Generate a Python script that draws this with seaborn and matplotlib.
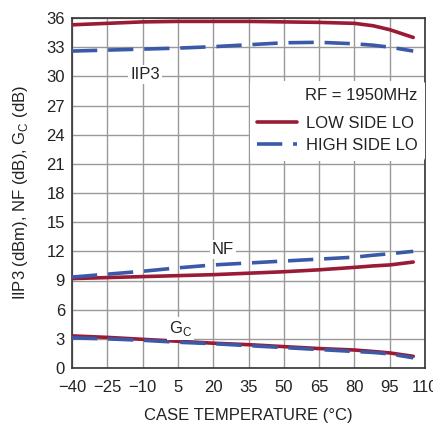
import matplotlib
matplotlib.use("Agg")
import matplotlib.pyplot as plt
import seaborn as sns
import pandas as pd
from matplotlib import font_manager

temps = [-40, -25, -10, 5, 20, 35, 50, 65, 80, 88, 95, 105]
iip3_low = [35.3, 35.45, 35.6, 35.65, 35.65, 35.65, 35.6, 35.55, 35.45, 35.2, 34.8, 34.0]
iip3_high = [32.6, 32.7, 32.8, 32.9, 33.05, 33.25, 33.45, 33.5, 33.35, 33.2, 33.0, 32.6]
nf_low = [9.2, 9.3, 9.4, 9.5, 9.6, 9.75, 9.9, 10.1, 10.35, 10.5, 10.6, 10.9]
nf_high = [9.35, 9.65, 9.95, 10.3, 10.6, 10.8, 11.0, 11.2, 11.4, 11.6, 11.75, 12.0]
gc_low = [3.3, 3.15, 2.95, 2.75, 2.55, 2.4, 2.2, 2.0, 1.85, 1.7, 1.55, 1.2]
gc_high = [3.1, 3.0, 2.85, 2.65, 2.5, 2.3, 2.1, 1.9, 1.7, 1.6, 1.45, 1.05]

xticks = [-40, -25, -10, 5, 20, 35, 50, 65, 80, 95, 110]
xticklabels = ["\u221240", "\u221225", "\u221210", "5", "20", "35", "50", "65", "80", "95", "110"]
yticks = list(range(0, 37, 3))

sns.set_theme(style="white")
names = [f.name for f in font_manager.fontManager.ttflist]
fam = "Liberation Sans Narrow" if "Liberation Sans Narrow" in names else "Liberation Sans"
plt.rcParams['font.family'] = [fam, 'DejaVu Sans']

red = "#9a1b35"
blue = "#3a59a8"

rows = []
for metric, lo, hi in [("IIP3", iip3_low, iip3_high), ("NF", nf_low, nf_high), ("GC", gc_low, gc_high)]:
    for t, a, b in zip(temps, lo, hi):
        rows.append(dict(T=t, val=a, side="LOW SIDE LO", metric=metric))
        rows.append(dict(T=t, val=b, side="HIGH SIDE LO", metric=metric))
df = pd.DataFrame(rows)

fig = plt.figure(figsize=(4.33, 4.25), dpi=100)
ax = fig.add_axes([72/433, 1-368/425, (425-72)/433, (368-18)/425])

for metric in ["IIP3", "NF", "GC"]:
    sub = df[df.metric == metric]
    sns.lineplot(data=sub[sub.side == "LOW SIDE LO"], x="T", y="val", color=red, lw=2.6,
                 ax=ax, label="LOW SIDE LO" if metric == "IIP3" else None, zorder=3)
    sns.lineplot(data=sub[sub.side == "HIGH SIDE LO"], x="T", y="val", color=blue, lw=2.6,
                 ax=ax, label="HIGH SIDE LO" if metric == "IIP3" else None, zorder=4)
for l in ax.get_lines():
    if matplotlib.colors.to_hex(l.get_color()) == blue:
        l.set_dashes([7, 3])

ax.set_xlim(-40, 110)
ax.set_ylim(0, 36)
ax.set_xticks(xticks)
ax.set_xticklabels(xticklabels)
ax.set_yticks(yticks)
ax.grid(True, color="#999999", lw=1.0)
ax.set_axisbelow(True)
for s in ax.spines.values():
    s.set_color("#333333")
    s.set_linewidth(1.2)
ax.tick_params(axis="x", labelsize=12, colors="#222222", length=0, pad=9)
ax.tick_params(axis="y", labelsize=12, colors="#222222", length=0, pad=5)
ax.set_xlabel("CASE TEMPERATURE (\u00b0C)", fontsize=12, color="#222222", labelpad=9)
ax.set_ylabel("IIP3 (dBm), NF (dB), G$_\\mathregular{C}$ (dB)", fontsize=12, color="#222222", labelpad=12)

bbox = dict(facecolor="white", edgecolor="none", pad=1.5)
ax.text(-9, 30.2, "IIP3", fontsize=12, ha="center", va="center", color="#222222", bbox=bbox, zorder=5)
ax.text(24, 12.2, "NF", fontsize=12, ha="center", va="center", color="#222222", bbox=bbox, zorder=5)
ax.text(6, 4.1, "G$_\\mathregular{C}$", fontsize=12, ha="center", va="center", color="#222222", bbox=bbox, zorder=5)

leg = ax.legend(title="RF = 1950MHz", loc="upper right", bbox_to_anchor=(1.0, 0.82),
                frameon=True, fontsize=12, title_fontsize=12, handlelength=2.4,
                borderpad=0.45, labelspacing=0.42, handletextpad=0.5, borderaxespad=0.0)
leg.get_frame().set_edgecolor("none")
leg.get_frame().set_facecolor("white")
leg.get_frame().set_alpha(1.0)
leg._legend_box.align = "right"
leg._legend_box.sep = 9
for t in leg.get_texts():
    t.set_color("#222222")
leg.get_title().set_color("#222222")
leg.set_zorder(6)

fig.savefig("out.png", dpi=100)
